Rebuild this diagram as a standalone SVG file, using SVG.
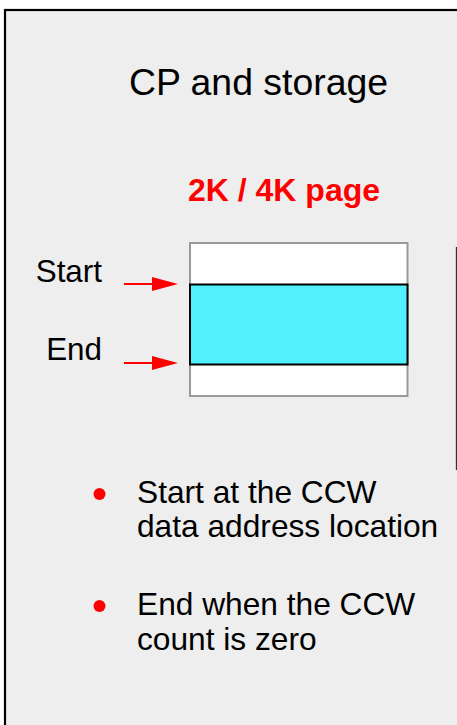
<svg xmlns="http://www.w3.org/2000/svg" width="457" height="725" viewBox="0 0 457 725">
  <style>
    text { font-family: "Liberation Sans", Arial, sans-serif; fill: #000; }
    .title { font-size: 37.4px; }
    .page { font-size: 32px; font-weight: bold; fill: #ff0000; }
    .label { font-size: 31.4px; }
    .bullet-text { font-size: 31.7px; }
    .bullet { fill: #ff0000; }
    .arrow-line { stroke: #ff0000; stroke-width: 2; }
    .arrow-head { fill: #ff0000; }
  </style>
  <rect width="457" height="725" fill="#ffffff"/>

  <!-- panel frame, continuing past the right and bottom edges -->
  <g id="panel">
    <rect x="5" y="10" width="520" height="800" fill="#eeeeee" stroke="#000000" stroke-width="2.2"/>
    <line x1="456.5" y1="247" x2="456.5" y2="470" stroke="#333333" stroke-width="1.3"/>
  </g>

  <g id="title">
    <text class="title" x="258.5" y="95" text-anchor="middle">CP and storage</text>
  </g>

  <g id="page-label">
    <text class="page" x="284" y="201" text-anchor="middle">2K / 4K page</text>
  </g>

  <!-- storage page with the transferred data area -->
  <g id="page">
    <rect x="190" y="243" width="217.5" height="153" fill="#ffffff" stroke="#999999" stroke-width="2"/>
    <rect x="190" y="284.5" width="217.5" height="80" fill="#50f0fc" stroke="#000000" stroke-width="2"/>
  </g>

  <g id="start-label">
    <text class="label" x="102" y="282" text-anchor="end">Start</text>
  </g>
  <g id="end-label">
    <text class="label" x="102" y="360" text-anchor="end">End</text>
  </g>

  <g id="connectors">
    <line class="arrow-line" x1="124" y1="284" x2="154" y2="284"/>
    <polygon class="arrow-head" points="152,277 178,284 152,291"/>
    <line class="arrow-line" x1="124" y1="363" x2="154" y2="363"/>
    <polygon class="arrow-head" points="152,356 178,363 152,370"/>
  </g>

  <g id="bullet-start">
    <circle class="bullet" cx="99.5" cy="494" r="6"/>
    <text class="bullet-text" x="137" y="503">Start at the CCW</text>
    <text class="bullet-text" x="137" y="537">data address location</text>
  </g>

  <g id="bullet-end">
    <circle class="bullet" cx="99.5" cy="606" r="6"/>
    <text class="bullet-text" x="137" y="615">End when the CCW</text>
    <text class="bullet-text" x="137" y="650">count is zero</text>
  </g>
</svg>
